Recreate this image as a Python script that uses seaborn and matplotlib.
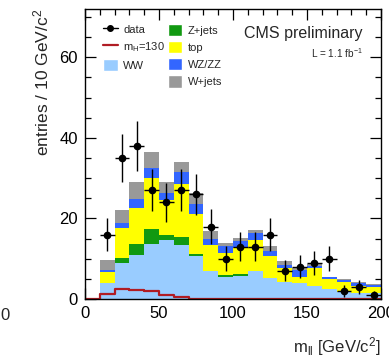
import numpy as np
import pandas as pd
import matplotlib
matplotlib.use("Agg")
import matplotlib.pyplot as plt
from matplotlib.lines import Line2D
from matplotlib.patches import Patch
from matplotlib.ticker import MultipleLocator
import seaborn as sns

# Bin layout: 10 GeV/c^2 bins of the dilepton mass
bin_edges = list(range(0, 201, 10))
bin_centers = list(range(5, 200, 10))

# Background expectations per bin (0-10 bin first)
ww     = [0, 3.9, 9.0, 11.0, 13.6, 14.7, 13.5, 10.8, 7.0, 5.5, 5.8, 7.0, 5.1, 4.1, 3.9, 3.2, 2.4, 1.8, 1.6, 1.4]
zjets  = [0, 0.0, 1.3, 2.6, 3.9, 1.1, 1.9, 0.4, 0.0, 0.4, 0.3, 0.0, 0.0, 0.0, 0.0, 0.0, 0.0, 0.0, 0.0, 0.0]
top    = [0, 2.8, 7.4, 8.9, 12.5, 8.8, 13.2, 9.9, 6.3, 5.6, 6.6, 7.7, 5.5, 3.5, 1.6, 4.4, 2.5, 2.5, 1.6, 1.5]
wzzz   = [0, 0.6, 1.2, 2.4, 2.5, 1.7, 3.0, 2.6, 1.5, 1.7, 1.6, 1.7, 1.3, 0.8, 1.7, 0.5, 0.5, 0.4, 0.7, 0.5]
wjets  = [0, 2.3, 3.1, 4.1, 4.1, 2.8, 2.5, 2.5, 2.1, 0.8, 0.9, 0.8, 1.3, 1.1, 0.6, 0.5, 0.0, 0.2, 0.4, 0.3]

# Higgs signal, m_H = 130 GeV/c^2
higgs  = [0, 1.2, 2.5, 2.2, 1.9, 1.1, 0.4, 0.1, 0.1, 0.1, 0.1, 0.1, 0.05, 0.05, 0.05, 0.05, 0.05, 0.05, 0.05, 0.05]

# Observed events
data_x = [15, 25, 35, 45, 55, 65, 75, 85, 95, 105, 115, 125, 135, 145, 155, 165, 175, 185, 195]
data_n = [16, 35, 38, 27, 24, 27, 26, 18, 10, 13, 13, 16, 7, 8, 9, 10, 2, 3, 1]

processes = ["WW", "Z+jets", "top", "WZ/ZZ", "W+jets"]
proc_values = [ww, zjets, top, wzzz, wjets]
colors = {"WW": "#99ccff", "Z+jets": "#119911", "top": "#ffff00",
          "WZ/ZZ": "#3366ff", "W+jets": "#999999"}
signal_color = "#b01c24"

rows = []
for name, vals in zip(processes, proc_values):
    for c, v in zip(bin_centers, vals):
        rows.append({"mll": c, "entries": v, "process": name})
bkg = pd.DataFrame(rows)
sig = pd.DataFrame({"mll": bin_centers, "entries": higgs})

sns.set_style("ticks")
plt.rcParams["font.family"] = ["Liberation Sans", "DejaVu Sans"]
plt.rcParams["mathtext.fontset"] = "custom"
plt.rcParams["mathtext.rm"] = "Liberation Sans"
plt.rcParams["mathtext.it"] = "Liberation Sans"

fig = plt.figure(figsize=(3.89, 3.59), dpi=100)
ax = fig.add_axes([85 / 389, 60 / 359, 296 / 389, 290 / 359])

sns.histplot(data=bkg, x="mll", weights="entries", hue="process",
             hue_order=processes[::-1], palette=colors, bins=bin_edges,
             multiple="stack", element="bars", alpha=1, linewidth=0,
             legend=False, ax=ax)

sns.histplot(data=sig, x="mll", weights="entries", bins=bin_edges,
             element="step", fill=False, color=signal_color, linewidth=1.6, ax=ax)

ax.errorbar(data_x, data_n, xerr=5, yerr=np.sqrt(data_n), fmt="o",
            color="black", ms=4.5, elinewidth=1.0, capsize=0, zorder=5)

ax.set_xlim(0, 200)
ax.set_ylim(0, 72)
ax.set_xticks([0, 50, 100, 150, 200])
ax.set_yticks([0, 20, 40, 60])
ax.xaxis.set_minor_locator(MultipleLocator(10))
ax.yaxis.set_minor_locator(MultipleLocator(5))
ax.tick_params(which="both", direction="in", top=True, right=True,
               labelsize=12, width=0.9, color="black", labelcolor="black")
ax.tick_params(which="major", length=8, pad=5)
ax.tick_params(which="minor", length=4)
for s in ax.spines.values():
    s.set_linewidth(1.0)
    s.set_color("black")
    s.set_visible(True)

ax.set_ylabel(r"entries / 10 GeV/c$^2$", fontsize=12.5, loc="top", labelpad=6)
ax.set_xlabel(r"m$_{\mathrm{ll}}$ [GeV/c$^2$]", fontsize=12, loc="right", labelpad=10)

ax.text(0.939, 0.917, "CMS preliminary", transform=ax.transAxes,
        ha="right", va="center", fontsize=11.5)
ax.text(0.939, 0.848, r"L = 1.1 fb$^{-1}$", transform=ax.transAxes,
        ha="right", va="center", fontsize=7.2)

h1 = [Line2D([], [], color="black", marker="o", ms=4, lw=1),
      Line2D([], [], color=signal_color, lw=1.6),
      Patch(facecolor=colors["WW"])]
l1 = ax.legend(h1, ["data", r"m$_{\mathrm{H}}$=130", "WW"],
               loc="upper left", bbox_to_anchor=(0.061, 0.952),
               frameon=False, fontsize=8, handlelength=1.3, handleheight=1.3,
               handletextpad=0.5, labelspacing=0.45, borderpad=0,
               borderaxespad=0)
ax.add_artist(l1)
h2 = [Patch(facecolor=colors[p]) for p in ["Z+jets", "top", "WZ/ZZ", "W+jets"]]
ax.legend(h2, ["Z+jets", "top", "WZ/ZZ", "W+jets"],
          loc="upper left", bbox_to_anchor=(0.280, 0.948),
          frameon=False, fontsize=8, handlelength=1.3, handleheight=1.3,
          handletextpad=0.5, labelspacing=0.45, borderpad=0,
          borderaxespad=0)

fig.text(5 / 389, 1 - 315 / 359, "0", fontsize=12, ha="center", va="center")

fig.savefig("out.png", dpi=100)
